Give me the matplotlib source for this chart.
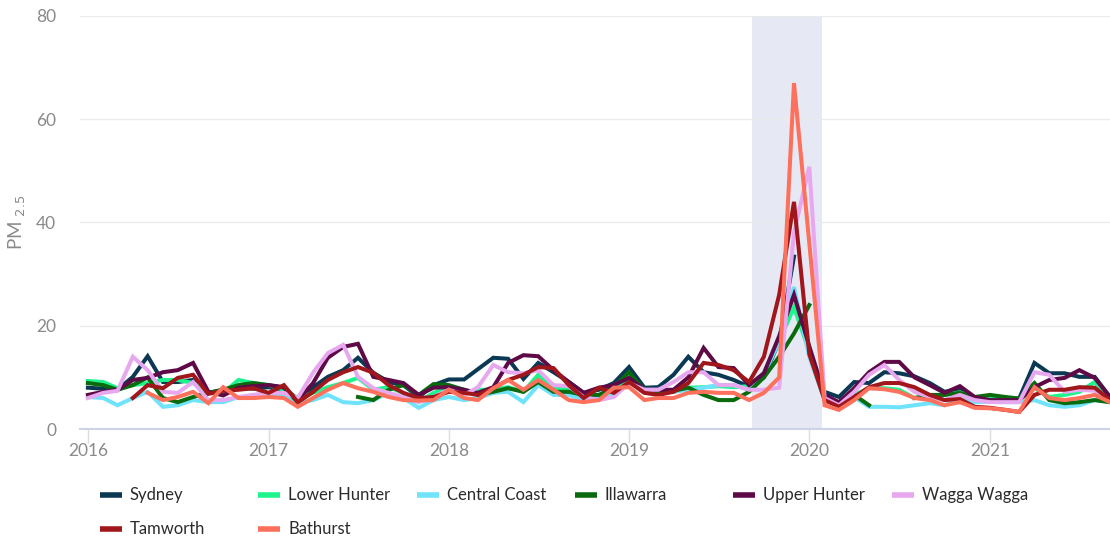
import numpy as np
import pandas as pd
import matplotlib
matplotlib.use("Agg")
import matplotlib.pyplot as plt
import matplotlib.dates as mdates
from matplotlib.lines import Line2D

plt.rcParams["font.family"] = ["Lato", "DejaVu Sans"]

MONTHS = pd.date_range("2016-01-01", "2021-09-01", freq="MS")
NAN = np.nan

SYDNEY = [
    8.0, 7.8, 7.6, 10.1, 14.1, 9.1, 9.1, 9.5, 7.0, 7.6, 8.0, 7.8,
    8.1, 7.6, 5.6, 8.1, 10.1, 11.4, 13.8, 10.9, 9.1, 8.5, 6.2, 8.5,
    9.6, 9.6, 11.6, 13.8, 13.6, 9.7, 12.8, 11.0, 9.1, 7.0, 7.6, 8.9,
    12.0, 8.0, 8.1, 10.5, 14.0, 11.0, 10.5, 9.5, 8.2, 10.0, 17.0, 33.4,
    NAN, 7.2, 6.2, 9.1, 8.9, 11.0, 10.8, 10.2, 8.9, 7.2, 7.8, 6.0,
    5.6, 5.9, 5.9, 12.8, 10.8, 10.8, 10.1, 10.1, 6.2,
]
LOWER_HUNTER = [
    9.3, 9.1, 7.9, 8.5, 8.9, 9.5, 9.5, 8.9, 7.2, 7.0, 9.5, 8.9,
    8.5, 7.6, 6.0, 7.0, 8.1, 8.9, 9.9, 7.6, 8.1, 7.0, 5.2, 7.0,
    8.0, 7.0, 7.6, 7.6, 8.1, 7.2, 10.5, 8.0, 7.6, 6.2, 6.6, 7.0,
    10.0, 7.6, 7.4, 7.2, 8.0, 8.1, 8.3, 8.1, 8.3, 10.8, 17.0, 23.6,
    15.0, 5.6, 4.6, 6.6, 7.9, 7.9, 7.6, 6.0, 6.2, 6.6, 7.1, 6.0,
    6.2, 6.0, 5.6, 7.9, 6.2, 6.6, 7.2, 9.1, 6.0,
]
CENTRAL_COAST = [
    6.2, 6.0, 4.6, 6.0, 7.2, 4.3, 4.6, 5.6, 5.2, 5.2, 6.2, 6.0,
    6.6, 6.4, 5.0, 5.6, 6.6, 5.2, 5.0, 5.6, 7.0, 6.0, 4.1, 5.6,
    6.2, 5.6, 6.0, 7.0, 7.2, 5.2, 8.5, 6.6, 6.6, 5.6, 6.0, 6.6,
    9.0, 7.6, 7.6, 7.2, 7.6, 8.0, 8.5, 8.5, 7.6, 10.5, 17.0, 27.5,
    14.0, 5.6, 4.3, 6.2, 4.3, 4.3, 4.2, 4.6, 5.0, 4.6, 5.7, 5.2,
    5.3, 5.2, 5.2, 5.6, 4.6, 4.3, 4.6, 5.6, 5.2,
]
ILLAWARRA = [
    8.9, 8.5, 7.6, 8.5, 10.0, 6.0, 5.2, 6.2, 7.0, 7.6, 8.5, 8.9,
    8.5, 8.0, 5.2, 7.2, NAN, NAN, 6.2, 5.6, 7.6, 8.5, 6.6, 8.7,
    8.5, 7.6, 6.6, 7.2, 7.9, 7.2, 9.1, 7.2, 7.2, 6.6, 6.6, 8.1,
    11.0, 7.4, 7.2, 7.4, 8.0, 6.6, 5.6, 5.6, 7.2, 10.0, 14.0, 18.5,
    24.0, NAN, NAN, 6.6, 4.6, NAN, NAN, 6.0, 6.6, 6.6, 7.0, 6.2,
    6.6, 6.2, 5.9, 8.9, 5.6, 5.0, 5.2, 5.6, 5.2,
]
UPPER_HUNTER = [
    6.6, 7.2, 7.6, 9.5, 9.9, 11.0, 11.4, 12.8, 7.2, 6.5, 8.0, 8.3,
    8.5, 8.1, 5.6, 8.9, 13.8, 15.9, 16.5, 10.1, 9.5, 8.9, 6.6, 8.0,
    8.1, 7.6, 7.0, 8.1, 12.8, 14.3, 14.1, 11.4, 9.1, 7.0, 8.0, 8.5,
    9.9, 7.6, 7.6, 7.6, 10.0, 15.7, 12.0, 11.8, 8.5, 10.8, 18.0, 26.0,
    16.0, 6.6, 5.2, 7.9, 11.0, 13.0, 13.0, 10.0, 8.5, 7.0, 8.3, 6.2,
    5.6, 5.6, 5.6, 8.1, 9.5, 9.9, 11.4, 9.9, 6.2,
]
WAGGA_WAGGA = [
    6.0, 7.0, 7.4, 14.0, 11.4, 7.2, 7.0, 9.1, 5.6, 5.6, 6.2, 6.6,
    7.0, 7.0, 6.0, 10.9, 14.7, 16.3, 10.1, 7.9, 7.0, 6.2, 5.2, 6.2,
    7.6, 6.6, 8.1, 12.4, 11.0, 10.8, 11.4, 8.5, 8.3, 6.2, 5.6, 6.2,
    8.9, 7.6, 7.6, 9.1, 11.0, 11.0, 8.5, 8.5, 7.6, 7.6, 8.0, 38.0,
    50.8, 6.0, 4.6, 7.2, 10.5, 12.4, 9.5, 7.2, 6.2, 5.6, 6.6, 5.6,
    5.2, 5.2, 5.2, 11.0, 10.5, 7.2, 7.6, 7.4, 5.6,
]
TAMWORTH = [
    NAN, NAN, NAN, 6.0, 8.5, 7.9, 9.9, 10.5, 6.8, 7.4, 7.6, 7.9,
    7.0, 8.5, 5.2, 7.2, 9.5, 11.0, 12.0, 10.9, 8.5, 7.0, 6.0, 6.2,
    7.2, 7.0, 6.6, 7.9, 9.5, 10.5, 12.0, 11.8, 8.5, 6.0, 8.0, 7.0,
    9.1, 7.0, 6.6, 7.2, 8.9, 12.8, 12.4, 11.4, 9.1, 14.0, 26.0, 44.0,
    14.5, 5.6, 4.3, 6.2, 8.1, 8.9, 8.9, 8.1, 6.6, 5.6, 5.8, 4.3,
    4.1, 3.7, 3.3, 6.6, 7.6, 7.6, 8.1, 8.0, 5.6,
]
BATHURST = [
    NAN, NAN, NAN, NAN, 7.0, 5.6, 6.2, 7.2, 5.0, 8.1, 6.0, 6.0,
    6.2, 6.0, 4.3, 6.0, 7.6, 8.9, 7.9, 7.2, 6.2, 5.6, 5.5, 5.6,
    7.6, 6.0, 5.6, 7.9, 9.5, 7.6, 9.5, 7.6, 5.6, 5.2, 5.6, 8.0,
    8.1, 5.6, 6.0, 6.0, 7.0, 7.2, 7.0, 7.0, 5.6, 7.0, 10.0, 67.0,
    36.0, 4.6, 3.7, 5.6, 7.9, 7.7, 7.2, 6.0, 5.6, 4.6, 5.2, 4.1,
    4.0, 3.7, 3.3, 8.1, 6.0, 5.6, 6.0, 6.6, 5.2,
]

SERIES = [
    ("Sydney", SYDNEY, "#0b3954"),
    ("Lower Hunter", LOWER_HUNTER, "#1cf58c"),
    ("Central Coast", CENTRAL_COAST, "#6fe2fc"),
    ("Illawarra", ILLAWARRA, "#0a6a0e"),
    ("Upper Hunter", UPPER_HUNTER, "#5e0a47"),
    ("Wagga Wagga", WAGGA_WAGGA, "#e8a8ef"),
    ("Tamworth", TAMWORTH, "#a0161b"),
    ("Bathurst", BATHURST, "#fd705c"),
]

FIRE_START = pd.Timestamp("2019-09-07")
FIRE_END = pd.Timestamp("2020-01-27")
YEARS = [2016, 2017, 2018, 2019, 2020, 2021]
Y_TICKS = [0, 20, 40, 60, 80]

GREY = "#8a8a8a"


def main():
    fig = plt.figure(figsize=(11.1, 5.36), dpi=100)
    ax = fig.add_axes([80 / 1110, 1 - 429 / 536, 1 - 80 / 1110, 413 / 536])

    ax.axvspan(FIRE_START, FIRE_END, color="#e6e9f4", zorder=0, lw=0)

    for name, values, color in SERIES:
        ax.plot(MONTHS, values, color=color, linewidth=2.9,
                solid_joinstyle="miter", label=name, zorder=3)

    ax.set_xlim(pd.Timestamp("2015-12-16"), pd.Timestamp("2021-09-01"))
    ax.set_ylim(0, 80)
    ax.set_yticks(Y_TICKS)
    ax.grid(axis="y", color="#ebebeb", linewidth=1)
    ax.set_axisbelow(True)

    ax.set_xticks([pd.Timestamp(f"{y}-01-01") for y in YEARS])
    ax.xaxis.set_major_formatter(mdates.DateFormatter("%Y"))
    ax.tick_params(axis="x", colors="#dcdcdc", length=10, width=1,
                   labelcolor=GREY, labelsize=12.5, pad=0)
    ax.tick_params(axis="y", length=0, labelcolor=GREY, labelsize=12.5, pad=17)

    for side in ["top", "right", "left"]:
        ax.spines[side].set_visible(False)
    ax.spines["bottom"].set_color("#cdd3e4")
    ax.spines["bottom"].set_linewidth(1.5)

    ax.set_ylabel(r"PM $_{\mathrm{2.5}}$", color=GREY, fontsize=13.5)
    ax.yaxis.set_label_coords(-52 / 1030, 0.5)

    for i, (name, _, color) in enumerate(SERIES):
        row, col = divmod(i, 6)
        x0 = (100 + col * 158.3) / 1110
        y0 = 1 - (495 + row * 34) / 536
        fig.add_artist(Line2D([x0, x0 + 22 / 1110], [y0, y0], color=color,
                              linewidth=4, solid_capstyle="butt"))
        fig.text(x0 + 30 / 1110, y0, name, va="center", ha="left",
                 fontsize=12, color="#2b2b2b")

    fig.savefig("out.png", dpi=100)


if __name__ == "__main__":
    main()
